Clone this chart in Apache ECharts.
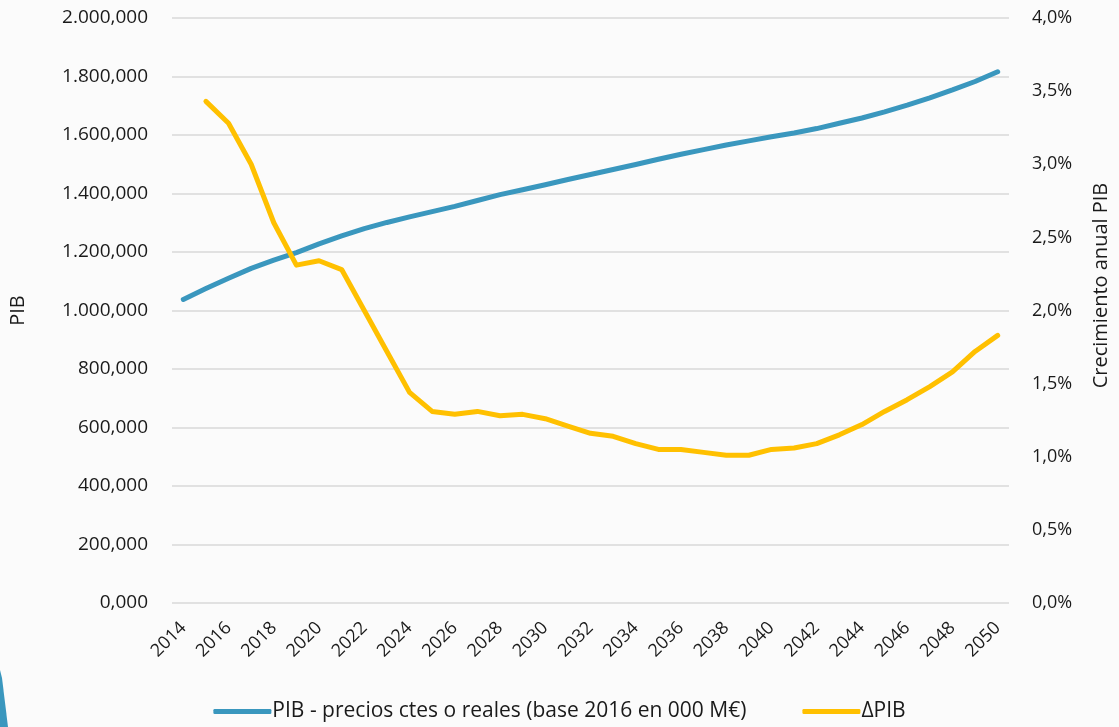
<!DOCTYPE html>
<html>
<head>
<meta charset="utf-8">
<script src="https://cdn.jsdelivr.net/npm/echarts@6/dist/echarts.min.js"></script>
<style>
  html, body { margin: 0; padding: 0; background: #fbfbfb; }
  #chart { width: 1119px; height: 727px; }
</style>
</head>
<body>
<div id="chart"></div>
<script>
const years = ['2014','2015','2016','2017','2018','2019','2020','2021','2022','2023','2024','2025','2026','2027','2028','2029','2030','2031','2032','2033','2034','2035','2036','2037','2038','2039','2040','2041','2042','2043','2044','2045','2046','2047','2048','2049','2050'];

const pibName = 'PIB - precios ctes o reales (base 2016 en 000 M€)';
const pib = [1038000,1075000,1110000,1144000,1172000,1198000,1228000,1255000,1280000,1301000,1320000,1338000,1356000,1376000,1396000,1413000,1430000,1448000,1465000,1482000,1499000,1517000,1534000,1550000,1566000,1580000,1594000,1607000,1622000,1640000,1658000,1679000,1702000,1727000,1754000,1783000,1816000];

const deltaName = 'ΔPIB';
const deltaPib = [null,3.43,3.28,3.00,2.60,2.31,2.34,2.28,2.00,1.72,1.44,1.31,1.29,1.31,1.28,1.29,1.26,1.21,1.16,1.14,1.09,1.05,1.05,1.03,1.01,1.01,1.05,1.06,1.09,1.15,1.22,1.31,1.39,1.48,1.58,1.72,1.83];

const leftAxisName = 'PIB';
const rightAxisName = 'Crecimiento anual PIB';

function fmtLeft(v) {
  const t = Math.round(v / 1000);
  let s;
  if (t >= 1000) {
    s = Math.floor(t / 1000) + '.' + String(t % 1000).padStart(3, '0');
  } else {
    s = String(t);
  }
  return s + ',000';
}
function fmtRight(v) {
  return v.toFixed(1).replace('.', ',') + '%';
}

const chart = echarts.init(document.getElementById('chart'));
const fontFam = 'Open Sans, Lato, sans-serif';
chart.setOption({
  backgroundColor: '#fbfbfb',
  animation: false,
  textStyle: { fontFamily: fontFam },
  graphic: [{
    type: 'polygon',
    shape: { points: [[0, 670], [2, 678], [8, 727], [0, 727]] },
    style: { fill: '#3a97be' },
    silent: true
  }],
  grid: { left: 170, right: 103, top: 18, bottom: 124 },
  legend: {
    bottom: 0,
    left: 'center',
    itemWidth: 58,
    itemHeight: 5,
    itemGap: 56,
    icon: 'roundRect',
    textStyle: { fontSize: 21, color: '#1a1a1a', fontFamily: fontFam, padding: [0, 0, 0, -4] },
    data: [pibName, deltaName]
  },
  xAxis: {
    type: 'category',
    data: years,
    boundaryGap: true,
    axisLine: { show: false },
    axisTick: { show: false },
    axisLabel: {
      interval: 1,
      rotate: 45,
      fontSize: 18,
      color: '#1a1a1a',
      margin: 22
    },
    splitLine: { show: false }
  },
  yAxis: [{
    type: 'value',
    min: 0,
    max: 2000000,
    interval: 200000,
    name: leftAxisName,
    nameLocation: 'middle',
    nameGap: 144,
    nameRotate: 90,
    nameTextStyle: { fontSize: 20, color: '#1a1a1a' },
    axisLine: { show: false },
    axisTick: { show: false },
    axisLabel: { formatter: fmtLeft, fontSize: 19, color: '#1a1a1a', margin: 24 },
    splitLine: { lineStyle: { color: '#d9d9d9', width: 1.5 } }
  }, {
    type: 'value',
    min: 0,
    max: 4,
    interval: 0.5,
    position: 'right',
    name: rightAxisName,
    nameLocation: 'middle',
    nameGap: 82,
    nameRotate: 90,
    nameTextStyle: { fontSize: 20, color: '#1a1a1a', padding: [0, 0, 0, 50] },
    axisLine: { show: false },
    axisTick: { show: false },
    axisLabel: { formatter: fmtRight, fontSize: 18, color: '#1a1a1a', margin: 23 },
    splitLine: { show: false }
  }],
  series: [{
    name: pibName,
    type: 'line',
    data: pib,
    yAxisIndex: 0,
    symbol: 'none',
    lineStyle: { color: '#3a97be', width: 5, cap: 'round', join: 'round' },
    itemStyle: { color: '#3a97be' }
  }, {
    name: deltaName,
    type: 'line',
    data: deltaPib,
    yAxisIndex: 1,
    symbol: 'none',
    lineStyle: { color: '#ffc000', width: 5, cap: 'round', join: 'round' },
    itemStyle: { color: '#ffc000' }
  }]
});
</script>
</body>
</html>
